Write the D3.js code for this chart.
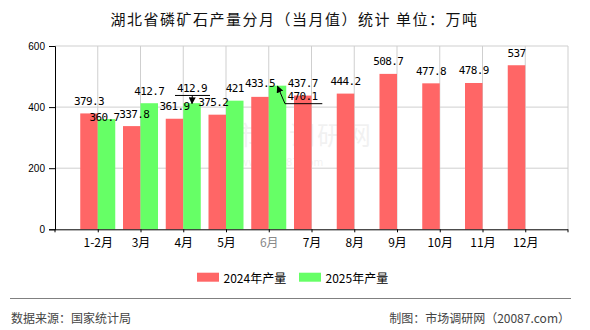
<!DOCTYPE html>
<html><head><meta charset="utf-8">
<script src="https://cdn.jsdelivr.net/npm/d3@7"></script>
<style>
html,body{margin:0;padding:0;background:#fff;}
svg{display:block;}
</style></head>
<body>
<svg id="chart" width="590" height="330"></svg>
<script>
// ---- data ----
const categories = ["1-2月","3月","4月","5月","6月","7月","8月","9月","10月","11月","12月"];
const series2024 = [379.3,337.8,361.9,375.2,433.5,437.7,444.2,508.7,477.8,478.9,537];
const series2025 = [360.7,412.7,412.9,421,470.1];
const seriesNames = ["2024年产量","2025年产量"];
const yTicks = [0,200,400,600];
const titleText = "湖北省磷矿石产量分月（当月值）统计 单位：万吨";
const sourceText = "数据来源：国家统计局";
const creditText = "制图：市场调研网（20087.com）";

// ---- layout / style ----
const colors = ["#FF6666","#66FF66"];
const L = 55, R = 568, T = 46, B = 229.3;
const step = (R - L) / 12;
const barW = 17.5;
// label layout tweaks (series index, category index) -> offsets / callouts
const labelAdjust = {
  "1-0": {dx: -2, dy: 10.5},
  "0-1": {dx: 2.5},
  "0-3": {dx: -4},
  "0-4": {dy: -1.5},
  "1-2": {dy: -2.7, callout: {x1: 175, x2: 210, ax: 192.3}},
  "1-4": {dx: 25, dy: 23, callout: {x1: 285, x2: 322.3, ax: 285}}
};

const svg = d3.select("#chart");
const x = d3.scalePoint().domain(categories).range([L + step, R - step]);
const y = d3.scaleLinear().domain([0, 600]).range([B, T]);

// defs arrow
svg.append("defs").append("marker")
  .attr("id","arr").attr("viewBox","0 0 10 10").attr("refX",9).attr("refY",5)
  .attr("markerWidth",7).attr("markerHeight",7).attr("orient","auto-start-reverse")
  .append("path").attr("d","M0,0 L10,5 L0,10 z").attr("fill","#000");

// title
svg.append("text").attr("x", 294.5).attr("y", 18).attr("text-anchor","middle")
  .attr("dominant-baseline","central")
  .style("font-family","'Noto Sans CJK SC',sans-serif").style("font-size","15px")
  .style("letter-spacing","1.5px").attr("fill","#111").text(titleText);

// watermark
const wm = svg.append("g").attr("opacity",0.05);
wm.append("text").attr("x",233).attr("y",145).style("font-family","'Noto Sans CJK SC',sans-serif")
  .style("font-size","26px").style("letter-spacing","2px").attr("fill","#000").text("市场调研网");
wm.append("text").attr("x",240).attr("y",166).style("font-family","'DejaVu Sans',sans-serif")
  .style("font-size","10px").attr("fill","#000").text("www.20087.com");

// grid
const grid = svg.append("g");
grid.selectAll("line.h").data(yTicks.filter(d => d > 0)).join("line")
  .attr("x1", L).attr("x2", R).attr("y1", d => y(d)).attr("y2", d => y(d))
  .attr("stroke","#cfcfcf").attr("stroke-width",1);
grid.selectAll("line.v").data(categories).join("line")
  .attr("x1", d => x(d)).attr("x2", d => x(d)).attr("y1", T).attr("y2", B)
  .attr("stroke","#cfcfcf");
grid.append("line").attr("x1",R).attr("x2",R).attr("y1",T).attr("y2",B).attr("stroke","#cfcfcf");

// bars
const allSeries = [series2024, series2025];
allSeries.forEach((vals, s) => {
  svg.append("g").selectAll("rect").data(vals).join("rect")
    .attr("x", (d,i) => x(categories[i]) + (s === 0 ? -barW : 0))
    .attr("y", d => y(d)).attr("width", barW).attr("height", d => B - y(d))
    .attr("fill", colors[s]);
});

// axes
const yAxis = svg.append("g").attr("transform",`translate(${L},0)`)
  .call(d3.axisLeft(y).tickValues(yTicks).tickSize(6).tickPadding(4));
yAxis.selectAll("text").style("font-family","'Liberation Sans',Arial,sans-serif").style("font-size","10px").attr("fill","#000");
yAxis.select(".domain").attr("stroke","#000");

const xAxis = svg.append("g").attr("transform",`translate(0,${B})`)
  .call(d3.axisBottom(x).tickSize(3).tickPadding(6).tickSizeOuter(0));
xAxis.select(".domain").attr("d", `M${L},0.5H${R}`).attr("stroke","#000");
xAxis.selectAll("text").style("font-family","'Noto Sans CJK SC',sans-serif").style("font-size","12px")
  .attr("fill", d => d === "6月" ? "#888" : "#000");
[L, R].forEach(px => xAxis.append("line").attr("x1",px).attr("x2",px).attr("y1",0).attr("y2",3).attr("stroke","#000"));

// value labels
const lg = svg.append("g").style("font-family","'DejaVu Sans Mono',monospace").style("font-size","11px")
  .style("letter-spacing","-0.6px");
allSeries.forEach((vals, s) => {
  vals.forEach((v, i) => {
    const a = labelAdjust[s + "-" + i] || {};
    const cx = x(categories[i]) + (s === 0 ? -barW/2 : barW/2);
    const lx = cx + (a.dx || 0);
    const ly = y(v) - 12 + (a.dy || 0);
    lg.append("text").attr("x", lx).attr("y", ly).attr("text-anchor","middle")
      .attr("dominant-baseline","central").attr("fill","#000").text(v);
    if (a.callout) {
      const uy = ly + 7;
      lg.append("line").attr("x1", a.callout.x1).attr("x2", a.callout.x2)
        .attr("y1", uy).attr("y2", uy).attr("stroke","#000").attr("stroke-width",1);
      lg.append("line").attr("x1", a.callout.ax).attr("y1", uy)
        .attr("x2", cx).attr("y2", y(v) + 0.5)
        .attr("stroke","#000").attr("stroke-width",1).attr("marker-end","url(#arr)");
    }
  });
});

// legend
const legX = [197, 299];
const leg = svg.append("g");
seriesNames.forEach((n, s) => {
  leg.append("rect").attr("x", legX[s]).attr("y", 272.7).attr("width", 22).attr("height", 9).attr("fill", colors[s]);
  leg.append("text").attr("x", legX[s] + 26.5).attr("y", 277.3).attr("dominant-baseline","central")
    .style("font-family","'Noto Sans CJK SC',sans-serif").style("font-size","12px").attr("fill","#000").text(n);
});

// footer
svg.append("line").attr("x1",10).attr("x2",571).attr("y1",298.5).attr("y2",298.5).attr("stroke","#808080").attr("stroke-width",1);
svg.append("text").attr("x",11).attr("y",317).attr("dominant-baseline","central")
  .style("font-family","'Noto Sans CJK SC',sans-serif").style("font-size","12px").attr("fill","#444").text(sourceText);
svg.append("text").attr("x",570).attr("y",317).attr("text-anchor","end").attr("dominant-baseline","central")
  .style("font-family","'Noto Sans CJK SC',sans-serif").style("font-size","12px").attr("fill","#444").text(creditText);
</script>
</body></html>
